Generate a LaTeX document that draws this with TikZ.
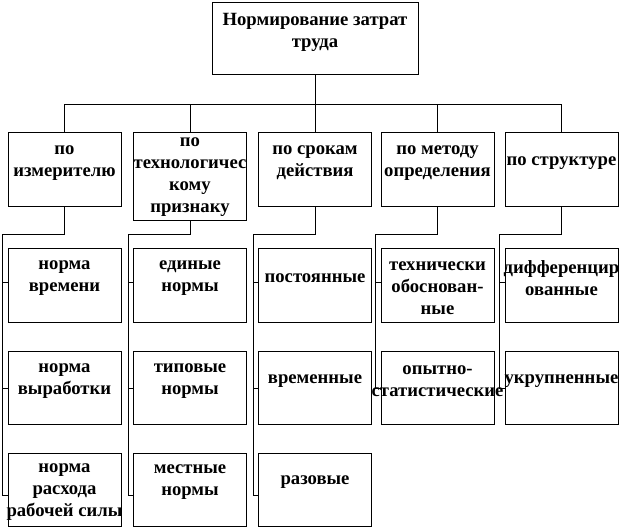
\documentclass[tikz,border=0pt]{standalone}
\usepackage{fontspec}
\setmainfont{Liberation Serif}

\begin{document}
\begin{tikzpicture}[x=1pt, y=-1pt, line width=1pt,
    box/.style={draw, minimum width=113pt, minimum height=73pt, inner sep=0pt},
    txt/.style={label={[yshift=7pt]center:#1}},
    txtlow/.style={label={[yshift=-3pt]center:#1}},
    every label/.style={align=center, inner sep=0pt,
      font=\bfseries\fontsize{18.67}{22}\selectfont}]
  \useasboundingbox (0,0) rectangle (621,529);
  % root
  \node[box, minimum width=206pt, minimum height=72pt,
    txt={Нормирование затрат\\труда}] (root) at (315,39) {};
  % criteria
  \node[box, minimum height=74pt, txt={по\\измерителю}] (c1) at (64.5,170) {};
  \node[box, minimum height=88pt,
    label={center:{по\\технологичес\\кому\\признаку}}] (c2) at (190,177) {};
  \node[box, minimum height=74pt, txt={по срокам\\действия}] (c3) at (315,170) {};
  \node[box, minimum height=74pt, txt={по методу\\определения}] (c4) at (437.5,170) {};
  \node[box, minimum height=74pt, txt={по структуре}] (c5) at (561.5,170) {};
  % norms, first column
  \node[box, txt={норма\\времени}] (n11) at (64.5,285.5) {};
  \node[box, txt={норма\\выработки}] (n12) at (64.5,388) {};
  \node[box, txtlow={норма\\расхода\\рабочей силы}] (n13) at (64.5,489.5) {};
  % second column
  \node[box, txt={единые\\нормы}] (n21) at (190,285.5) {};
  \node[box, txt={типовые\\нормы}] (n22) at (190,388) {};
  \node[box, txt={местные\\нормы}] (n23) at (190,489.5) {};
  % third column
  \node[box, txt={постоянные}] (n31) at (315,285.5) {};
  \node[box, txt={временные}] (n32) at (315,388) {};
  \node[box, txt={разовые}] (n33) at (315,489.5) {};
  % fourth column
  \node[box, txtlow={технически\\обоснован-\\ные}] (n41) at (437.5,285.5) {};
  \node[box, txt={опытно-\\статистические}] (n42) at (437.5,388) {};
  % fifth column
  \node[box, txt={дифференцир\\ованные}] (n51) at (561.5,285.5) {};
  \node[box, txt={укрупненные}] (n52) at (561.5,388) {};
  % upper bus
  \coordinate (bus) at (315,105);
  \draw (root) -- (bus);
  \foreach \i in {1,...,5}
    \draw (bus) -| (c\i.north);
  % column buses
  \foreach \i/\x in {1/64.5, 2/190, 3/315, 4/437.5, 5/561.5}
    \coordinate (j\i) at (\x-62,235);
  \foreach \i in {1,...,5}
    \draw (c\i.south) |- (j\i) |- ([yshift=3pt]n\i1.west);
  \foreach \i in {1,...,5}
    \draw (j\i) |- (n\i2.west);
  \foreach \i in {1,2,3}
    \draw (j\i) |- ([yshift=-5.5pt]n\i3.west);
\end{tikzpicture}
\end{document}
